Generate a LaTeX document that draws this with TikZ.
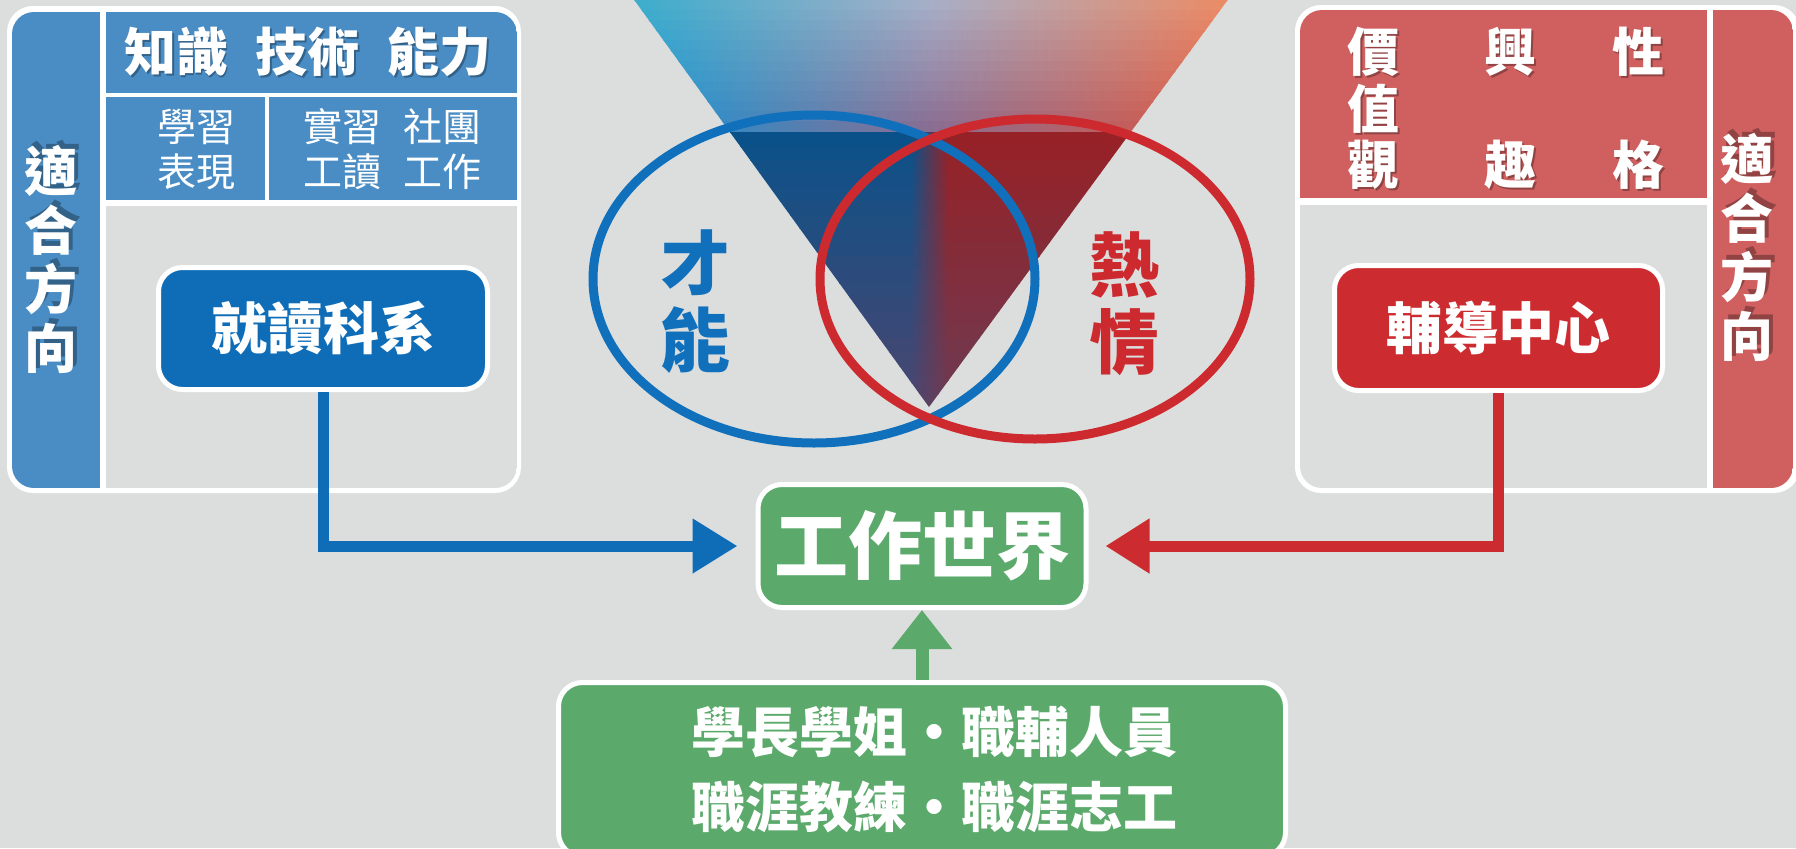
\documentclass[tikz,border=0pt]{standalone}
\usepackage{fontspec}
\newfontfamily\cjk{Noto Sans CJK TC}
\usetikzlibrary{arrows.meta}
\definecolor{bg}{HTML}{DCDEDD}
\definecolor{panelblue}{HTML}{4A8DC5}
\definecolor{deptblue}{HTML}{0F6DB8}
\definecolor{panelred}{HTML}{D06060}
\definecolor{guidred}{HTML}{CC2B2F}
\definecolor{grn}{HTML}{5BAA6C}
\definecolor{ringblue}{HTML}{1070BC}
\definecolor{ringred}{HTML}{CD2A30}
% upper gradient colours (top / bottom rows)
\definecolor{tL}{HTML}{3DAFCB}
\definecolor{tM}{HTML}{A9B3CB}
\definecolor{tR}{HTML}{EE8E66}
\definecolor{uL}{HTML}{1195D8}
\definecolor{uM}{HTML}{8A6E92}
\definecolor{uR}{HTML}{E2553C}
% lower gradient colours
\definecolor{ltL}{HTML}{0B5189}
\definecolor{ltR}{HTML}{962126}
\definecolor{lbL}{HTML}{4A4670}
\definecolor{lbR}{HTML}{6E3A52}
\begin{document}
\begin{tikzpicture}[x=0.5pt,y=-0.5pt,
  hdrtxt/.style={text=white,font=\cjk\bfseries\fontsize{26pt}{28.25pt}\selectfont,align=center,inner sep=0pt},
  hdrshadow/.style={hdrtxt,text=black,opacity=0.3},
  celltxt/.style={text=white,font=\cjk\fontsize{19.5pt}{22.5pt}\selectfont,align=center,inner sep=0pt},
  vtxt/.style={text=white,font=\cjk\bfseries\fontsize{26.5pt}{29.5pt}\selectfont,align=center,inner sep=0pt},
  vshadow/.style={vtxt,text=black,opacity=0.3},
  bigtxt/.style={font=\cjk\bfseries\fontsize{35pt}{38.5pt}\selectfont,align=center,inner sep=0pt},
  roundbox/.style={draw=white,line width=2.5pt,rounded corners=12pt,text=white,align=center},
  deptbox/.style={roundbox,fill=deptblue,minimum width=164.5pt,minimum height=61pt,font=\cjk\bfseries\fontsize{28pt}{30pt}\selectfont},
  guidbox/.style={roundbox,fill=guidred,minimum width=164pt,minimum height=62.5pt,font=\cjk\bfseries\fontsize{28pt}{30pt}\selectfont},
  worldbox/.style={roundbox,fill=grn,minimum width=164pt,minimum height=61.5pt,font=\cjk\bfseries\fontsize{37pt}{40pt}\selectfont},
  botbox/.style={roundbox,fill=grn,minimum width=363.5pt,minimum height=87pt,font=\cjk\bfseries\fontsize{27pt}{37.5pt}\selectfont},
  bluearr/.style={draw=deptblue,line width=5.5pt,-{Triangle[length=22.5pt,width=26pt]},shorten >=9pt},
  redarr/.style={draw=guidred,line width=5.5pt,-{Triangle[length=22pt,width=26pt]},shorten >=8.5pt},
  greenarr/.style={draw=grn,line width=6.5pt,-{Triangle[length=19.5pt,width=29pt]}},
  ring/.style={line width=4.5pt}
]
\clip (0,0) rectangle (1796,848);
\fill[bg] (0,0) rectangle (1796,848);

% ---------- gradient triangle ----------
\begin{scope}
  \clip (627,-10) -- (1235,-10) -- (929,407) -- cycle;
  \foreach \i in {0,...,13}{
    \pgfmathsetmacro\t{100*\i/13}
    \pgfmathsetmacro\ya{-10+\i*10.143}
    \pgfmathsetmacro\yb{\ya+11.2}
    \shade[left color=uL!\t!tL,right color=uR!\t!tR,middle color=uM!\t!tM] (627,\ya) rectangle (1235,\yb);
  }
  \foreach \i in {0,...,19}{
    \pgfmathsetmacro\t{100*\i/19}
    \pgfmathsetmacro\ya{132+\i*13.75}
    \pgfmathsetmacro\yb{\ya+14.75}
    \colorlet{cA}{lbL!\t!ltL}
    \colorlet{cB}{lbR!\t!ltR}
    \fill[cA] (700,\ya) rectangle (912,\yb);
    \shade[left color=cA,right color=cB] (911,\ya) rectangle (948,\yb);
    \fill[cB] (947,\ya) rectangle (1170,\yb);
  }
\end{scope}

% ---------- rings ----------
\draw[ring,ringblue] (814,279) ellipse [x radius=110.5pt,y radius=82pt];
\draw[ring,ringred] (1035,279) ellipse [x radius=107.5pt,y radius=80pt];
\node[bigtxt,text=ringblue] (talent) at (695,301.5) {才\\能};
\node[bigtxt,text=ringred] (passion) at (1124,304) {熱\\情};

% ---------- left panel ----------
\fill[white,rounded corners=13pt] (7,6) rectangle (521,493);
\begin{scope}
  \clip[rounded corners=11pt] (12,12) rectangle (517,488);
  \fill[panelblue] (12,12) rectangle (100,488);
  \fill[panelblue] (106,12) rectangle (517,93);
  \fill[panelblue] (106,97) rectangle (265,200);
  \fill[panelblue] (269,97) rectangle (517,200);
  \fill[bg] (106,206) rectangle (517,488);
\end{scope}
\node[hdrshadow] (lhdrs) at (310,54) {知識\hspace{14pt}技術\hspace{14pt}能力};
\node[hdrtxt] (lhdr) at (308,52) {知識\hspace{14pt}技術\hspace{14pt}能力};
\node[celltxt] (lc1) at (196,149.5) {學習\\表現};
\node[celltxt] (lc2) at (342,149.5) {實習\\工讀};
\node[celltxt] (lc3) at (442,149.5) {社團\\工作};
\node[vshadow] (lvts) at (55,254.5) {適\\合\\方\\向};
\node[vtxt] (lvt) at (51,259.5) {適\\合\\方\\向};
\node[deptbox] (dept) at (323,328.5) {就讀科系};

% ---------- right panel ----------
\fill[white,rounded corners=13pt] (1295,5) rectangle (1800,493);
\begin{scope}
  \clip[rounded corners=11pt] (1300,10) rectangle (1793,488);
  \fill[panelred] (1300,10) rectangle (1707,198);
  \fill[bg] (1300,205) rectangle (1707,488);
  \fill[panelred] (1713,10) rectangle (1793,488);
\end{scope}
\node[hdrshadow] (r1s) at (1375,110.5) {價\\值\\觀};
\node[hdrtxt] (r1) at (1373,108.5) {價\\值\\觀};
\node[hdrshadow] (r2s) at (1512,110.5) {興\\[28.25pt]趣};
\node[hdrtxt] (r2) at (1510,108.5) {興\\[28.25pt]趣};
\node[hdrshadow] (r3s) at (1640,110.5) {性\\[28.25pt]格};
\node[hdrtxt] (r3) at (1638,108.5) {性\\[28.25pt]格};
\node[vshadow] (rvts) at (1751,242.5) {適\\合\\方\\向};
\node[vtxt] (rvt) at (1747,247.5) {適\\合\\方\\向};
\node[guidbox] (guid) at (1498.5,328) {輔導中心};

% ---------- bottom ----------
\node[worldbox] (world) at (922,546) {工作世界};
\node[botbox] (bot) at (922,769.5) {\hspace*{12pt}學長學姐·職輔人員\\\hspace*{12pt}職涯教練·職涯志工};

% ---------- connectors ----------
\draw[bluearr] (dept.south) |- (world.west);
\draw[redarr] (guid.south) |- (world.east);
\draw[greenarr] (bot.north) -- (world.south);
\end{tikzpicture}
\end{document}
